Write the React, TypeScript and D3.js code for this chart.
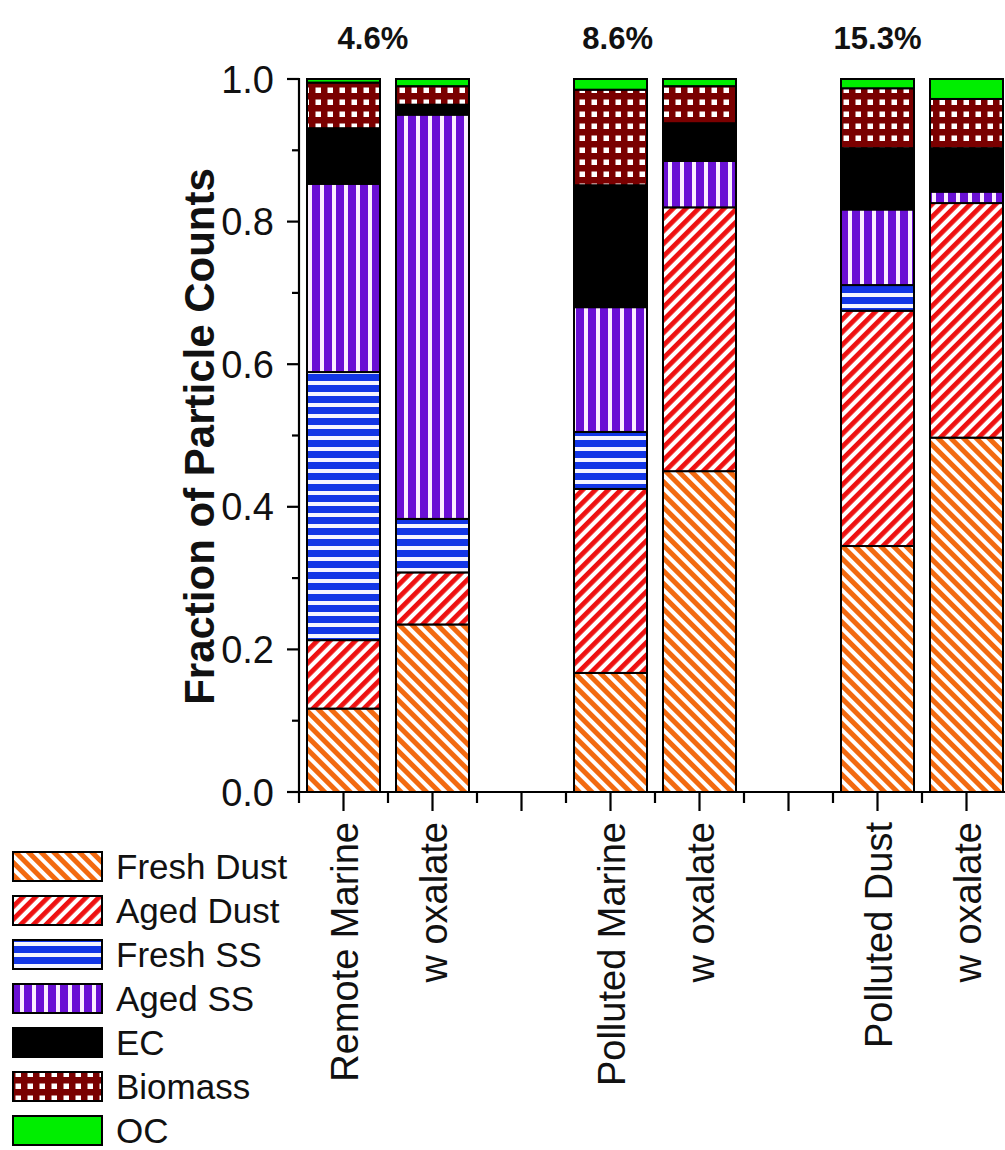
import React from "react";
import * as d3 from "d3";

// Sample groups (x positions leave a gap between the three pairs)
const categories = ["Remote Marine", "w oxalate", "Polluted Marine", "w oxalate", "Polluted Dust", "w oxalate"];
const slots = [1, 2, 4, 5, 7, 8];

// Particle class fractions per bar, bottom to top
const seriesNames = ["Fresh Dust", "Aged Dust", "Fresh SS", "Aged SS", "EC", "Biomass", "OC"];
const freshDust = [0.117, 0.235, 0.167, 0.45, 0.345, 0.497];
const agedDust = [0.096, 0.073, 0.258, 0.37, 0.33, 0.329];
const freshSS = [0.376, 0.075, 0.08, 0.0, 0.036, 0.0];
const agedSS = [0.264, 0.567, 0.175, 0.065, 0.106, 0.016];
const ec = [0.078, 0.014, 0.171, 0.053, 0.086, 0.061];
const biomass = [0.064, 0.026, 0.134, 0.052, 0.084, 0.069];
const oc = [0.005, 0.01, 0.015, 0.01, 0.013, 0.028];

// Percentages written above each pair
const pairLabels = ["4.6%", "8.6%", "15.3%"];
const pairLabelSlots = [1.33, 4.08, 7.0];

const yTicks = [0, 0.2, 0.4, 0.6, 0.8, 1.0];
const yMinorTicks = [0.1, 0.3, 0.5, 0.7, 0.9];

const fills = ["url(#pFreshDust)", "url(#pAgedDust)", "url(#pFreshSS)", "url(#pAgedSS)", "#000000", "url(#pBiomass)", "#00ee00"];

const FONT = "'Liberation Sans', Arial, Helvetica, sans-serif";

export default function App() {
  const W = 1005;
  const H = 1150;
  const x = d3.scaleLinear().domain([0.5, 8.5]).range([299, 1011]);
  const y = d3.scaleLinear().domain([0, 1]).range([792, 79]);
  const barW = 73;

  const seriesArrays = [freshDust, agedDust, freshSS, agedSS, ec, biomass, oc];
  const rows = categories.map((c, i) => {
    const r: Record<string, number> = { idx: i } as any;
    seriesNames.forEach((s, k) => (r[s] = seriesArrays[k][i]));
    return r;
  });
  const stack = d3.stack<Record<string, number>>().keys(seriesNames)(rows);

  const majorX = d3.range(1, 9);
  const minorX = d3.range(0.5, 8.6, 1);

  return (
    <svg width={W} height={H} style={{ position: "absolute", left: 0, top: 0, background: "#fff" }} fontFamily={FONT}>
      <defs>
        <pattern id="pFreshDust" patternUnits="userSpaceOnUse" width={9} height={9} patternTransform="rotate(-45)">
          <rect width={9} height={9} fill="#fff" />
          <rect width={5} height={9} fill="#f26a10" />
        </pattern>
        <pattern id="pAgedDust" patternUnits="userSpaceOnUse" width={9} height={9} patternTransform="rotate(45)">
          <rect width={9} height={9} fill="#fff" />
          <rect width={4.8} height={9} fill="#ee1111" />
        </pattern>
        <pattern id="pFreshSS" patternUnits="userSpaceOnUse" width={11} height={11}>
          <rect width={11} height={11} fill="#f4f4ff" />
          <rect y={0} width={11} height={7} fill="#1236e6" />
        </pattern>
        <pattern id="pAgedSS" patternUnits="userSpaceOnUse" width={12} height={12}>
          <rect width={12} height={12} fill="#fbeeff" />
          <rect x={0} width={8} height={12} fill="#6a10d4" />
        </pattern>
        <pattern id="pBiomass" patternUnits="userSpaceOnUse" width={12} height={12}>
          <rect width={12} height={12} fill="#7a0000" />
          <rect x={3.5} y={3.5} width={5.5} height={5.5} fill="#ffffff" />
        </pattern>
      </defs>

      {/* stacked bars */}
      {stack.map((layer, k) =>
        layer.map((d, i) => {
          const v = d[1] - d[0];
          if (v <= 0) return null;
          const cx = x(slots[i]);
          return (
            <rect
              key={`${k}-${i}`}
              x={cx - barW / 2}
              y={y(d[1])}
              width={barW}
              height={y(d[0]) - y(d[1])}
              fill={fills[k]}
              stroke="#000"
              strokeWidth={2}
            />
          );
        })
      )}

      {/* y axis */}
      <line x1={299} x2={299} y1={y(0) + 1} y2={y(1) - 1} stroke="#000" strokeWidth={2.2} />
      {yTicks.map((t) => (
        <g key={`yt${t}`}>
          <line x1={287} x2={299} y1={y(t)} y2={y(t)} stroke="#000" strokeWidth={2.2} />
          <text x={274} y={y(t)} dy="0.36em" textAnchor="end" fontSize={38} fill="#111">
            {d3.format(".1f")(t)}
          </text>
        </g>
      ))}
      {yMinorTicks.map((t) => (
        <line key={`ym${t}`} x1={292} x2={299} y1={y(t)} y2={y(t)} stroke="#000" strokeWidth={2.2} />
      ))}
      <text
        transform={`translate(214, ${(y(0) + y(1)) / 2 + 1}) rotate(-90)`}
        textAnchor="middle"
        fontSize={42}
        fontWeight="bold"
        fill="#111"
      >
        Fraction of Particle Counts
      </text>

      {/* x axis */}
      <line x1={298} x2={W} y1={y(0)} y2={y(0)} stroke="#000" strokeWidth={2.2} />
      {majorX.map((t) => (
        <line key={`xm${t}`} x1={x(t)} x2={x(t)} y1={y(0)} y2={y(0) + 19} stroke="#000" strokeWidth={2.2} />
      ))}
      {minorX.map((t) => (
        <line key={`xn${t}`} x1={x(t)} x2={x(t)} y1={y(0)} y2={y(0) + 11} stroke="#000" strokeWidth={2.2} />
      ))}
      {categories.map((c, i) => (
        <text
          key={`cl${i}`}
          transform={`translate(${x(slots[i]) + 14}, 822) rotate(-90)`}
          textAnchor="end"
          fontSize={38}
          fill="#111"
        >
          {c}
        </text>
      ))}

      {/* percentages above pairs */}
      {pairLabels.map((l, i) => (
        <text key={`pl${i}`} x={x(pairLabelSlots[i])} y={49} textAnchor="middle" fontSize={31} fontWeight="bold" fill="#111">
          {l}
        </text>
      ))}

      {/* legend */}
      {seriesNames.map((s, k) => {
        const top = 852 + k * 44;
        return (
          <g key={`lg${k}`}>
            <rect x={13} y={top} width={89} height={29} fill={fills[k]} stroke="#000" strokeWidth={2} />
            <text x={116} y={top + 27} fontSize={35} fill="#111">
              {s}
            </text>
          </g>
        );
      })}
    </svg>
  );
}
